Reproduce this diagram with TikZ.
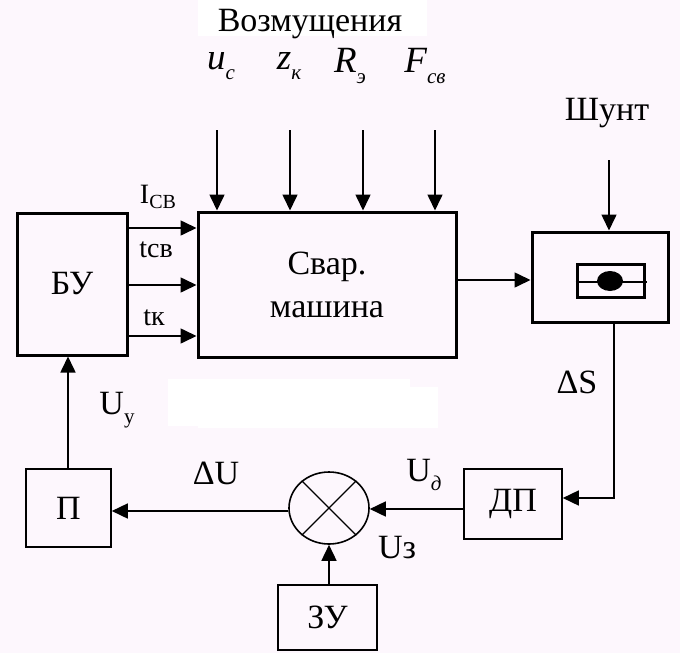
\documentclass[tikz,border=0pt]{standalone}
\usepackage{fontspec}
\setmainfont{Liberation Serif}
\usetikzlibrary{arrows.meta,shapes.geometric}
\definecolor{bg}{RGB}{253,247,253}
\newcommand\mysub[1]{\raisebox{-0.28em}{\fontsize{21}{21}\selectfont #1}}
\begin{document}
\begin{tikzpicture}[x=1pt,y=-1pt,
  thickbox/.style={draw,rectangle,line width=3pt,inner sep=0pt},
  thinbox/.style={draw,rectangle,line width=1.6pt,inner sep=0pt},
  arr/.style={line width=1.6pt,-{Triangle[length=16pt,width=15pt]}},
  conn/.style={line width=1.6pt},
  lbl/.style={font=\fontsize{34}{43}\selectfont,inner sep=0pt},
  smlbl/.style={font=\fontsize{28}{30}\selectfont,inner sep=0pt},
  itlbl/.style={font=\fontsize{37}{40}\selectfont\itshape,inner sep=0pt}]
\useasboundingbox (0,0) rectangle (680,653);
\fill[bg] (0,0) rectangle (680,653);
\fill[white] (198,0) rectangle (427,36);
\fill[white] (168,379) rectangle (410,426);
\fill[white] (198,387) rectangle (438,428);

% blocks
\node[thickbox,minimum width=110pt,minimum height=142pt,lbl] (bu) at (72,284) {БУ};
\node[thickbox,minimum width=258pt,minimum height=145pt,lbl,align=center] (mach) at (327,284.5) {Свар.\\машина};
\node[thickbox,minimum width=136pt,minimum height=90pt] (shunt) at (600,277) {};
\node[thinbox,minimum width=98pt,minimum height=70pt,lbl] (dp) at (513,504) {ДП};
\node[draw,ellipse,line width=1.6pt,minimum width=80pt,minimum height=72pt,inner sep=0pt] (sum) at (329,508) {};
\node[thinbox,minimum width=99pt,minimum height=65pt,lbl] (zu) at (327.5,617.5) {ЗУ};
\node[thinbox,minimum width=85pt,minimum height=78pt,lbl] (p) at (68.5,508) {П};

% summing cross
\draw[line width=1.2pt] (sum.135) -- (sum.-45);
\draw[line width=1.2pt] (sum.45) -- (sum.-135);

% shunt symbol
\node[draw,rectangle,line width=3pt,minimum width=67pt,minimum height=33pt,inner sep=0pt] (sym) at (610.5,280.5) {};
\coordinate (symR) at (647,282);
\draw[line width=2pt] (sym.west |- symR) -- (symR);
\fill (610,281) ellipse [x radius=13pt, y radius=10pt];

% coordinates
\coordinate (y1) at (0,228);
\coordinate (y2) at (0,285);
\coordinate (y3) at (0,336);
\coordinate (d1) at (217,130);
\coordinate (d2) at (290,130);
\coordinate (d3) at (363,130);
\coordinate (d4) at (435,130);
\coordinate (yout) at (0,280);
\coordinate (sh) at (609,160);
\coordinate (xdown) at (614,0);
\coordinate (corner) at (614,498);
\coordinate (yfb) at (0,509);
\coordinate (ysum) at (0,511);
\coordinate (xzu) at (329,0);
\coordinate (xp) at (68,0);

% connectors
\draw[arr] (bu.east |- y1) -- (mach.west |- y1);
\draw[arr] (bu.east |- y2) -- (mach.west |- y2);
\draw[arr] (bu.east |- y3) -- (mach.west |- y3);
\draw[arr] (d1) -- (mach.north -| d1);
\draw[arr] (d2) -- (mach.north -| d2);
\draw[arr] (d3) -- (mach.north -| d3);
\draw[arr] (d4) -- (mach.north -| d4);
\draw[arr] (mach.east |- yout) -- (shunt.west |- yout);
\draw[arr] (sh) -- (shunt.north -| sh);
\draw[arr] (shunt.south -| xdown) -- (corner) -- (dp.east |- corner);
\draw[arr] (dp.west |- yfb) -- (sum.east |- yfb);
\draw[arr] (zu.north -| xzu) -- (sum.south -| xzu);
\draw[arr] (sum.west |- ysum) -- (p.east |- ysum);
\draw[arr] (p.north -| xp) -- (bu.south -| xp);

% labels
\node[lbl] (vozm) at (310,24) {Возмущения};
\node[itlbl] (luc) at (221,66) {u\mysub{с}};
\node[itlbl] (lzk) at (289,66) {z\mysub{к}};
\node[itlbl] (lre) at (350,66) {R\mysub{э}};
\node[itlbl] (lfsv) at (425,66) {F\mysub{св}};
\node[smlbl] (licb) at (158,197) {I\raisebox{-0.2em}{\fontsize{20}{20}\selectfont СВ}};
\node[smlbl] (ltsv) at (156,250) {tсв};
\node[smlbl] (ltk) at (154,318) {tк};
\node[lbl] (lshunt) at (607,113) {Шунт};
\node[lbl] (lds) at (577,382) {ΔS};
\node[lbl] (luy) at (117,410) {U\mysub{у}};
\node[lbl] (ldu) at (216,473) {ΔU};
\node[lbl] (lud) at (424,475) {U\mysub{\itshape д}};
\node[lbl] (luz) at (397,548) {Uз};
\end{tikzpicture}
\end{document}
